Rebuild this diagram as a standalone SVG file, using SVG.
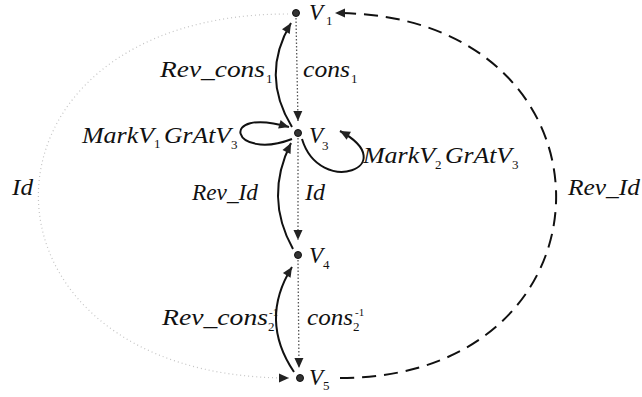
<svg xmlns="http://www.w3.org/2000/svg" width="642" height="397" viewBox="0 0 642 397">
<style>
.t{font-family:"Liberation Serif",serif;font-style:italic;font-size:23px;fill:#111}
.v{font-size:23px}
.s{font-family:"Liberation Serif",serif;font-style:normal;font-size:13px;fill:#111}
.sol{fill:none;stroke:#111;stroke-width:2}
.dash{fill:none;stroke:#111;stroke-width:2;stroke-dasharray:14 8}
.dot{fill:none;stroke:#555;stroke-width:1.3;stroke-dasharray:1.5 2}
.faint{fill:none;stroke:#c4c4c4;stroke-width:1.2;stroke-dasharray:1 3}
.node{fill:#333;stroke:#111;stroke-width:1}
</style>
<defs>
<marker id="ah" markerUnits="userSpaceOnUse" markerWidth="11" markerHeight="9" refX="10" refY="4.5" orient="auto" overflow="visible">
<path d="M0,0 L10,4.5 L0,9 z" fill="#222"/>
</marker>
</defs>
<g id="connectors">
<path class="faint" d="M288 14 C-45 14,-45 378,289 378" marker-end="url(#ah)"/>
<path class="dash" d="M340 378 C629 378,629 13,335 13" marker-end="url(#ah)"/>
<path class="dot" d="M296 18 L298 121" marker-end="url(#ah)"/>
<path class="dot" d="M298 138 L298 240" marker-end="url(#ah)"/>
<path class="dot" d="M298 260 L299 368" marker-end="url(#ah)"/>
<path class="sol" d="M292 127 Q260 75 291 23" marker-end="url(#ah)"/>
<path class="sol" d="M293 249 Q264 197 291 143" marker-end="url(#ah)"/>
<path class="sol" d="M294 372 Q259 320 292 267" marker-end="url(#ah)"/>
<path class="sol" d="M292 139 C232 162,216 106,289 127" marker-end="url(#ah)"/>
<path class="sol" d="M302 139 C320 198,404 166,340 131" marker-end="url(#ah)"/>
</g>
<g id="labels">
<text class="t" x="160" y="77" textLength="105" lengthAdjust="spacingAndGlyphs">Rev_cons</text>
<text class="s" x="266" y="83">1</text>
<text class="t" x="303" y="77" textLength="47" lengthAdjust="spacingAndGlyphs">cons</text>
<text class="s" x="351" y="83">1</text>
<text class="t" x="82" y="143" textLength="72" lengthAdjust="spacingAndGlyphs">MarkV</text>
<text class="s" x="154" y="148">1</text>
<text class="t" x="164" y="143" textLength="67" lengthAdjust="spacingAndGlyphs">GrAtV</text>
<text class="s" x="231" y="149">3</text>
<text class="t" x="363" y="163" textLength="72" lengthAdjust="spacingAndGlyphs">MarkV</text>
<text class="s" x="435" y="169">2</text>
<text class="t" x="445" y="163" textLength="67" lengthAdjust="spacingAndGlyphs">GrAtV</text>
<text class="s" x="512" y="169">3</text>
<text class="t" x="192" y="200" textLength="66" lengthAdjust="spacingAndGlyphs">Rev_Id</text>
<text class="t" x="305" y="200" textLength="20" lengthAdjust="spacingAndGlyphs">Id</text>
<text class="t" x="162" y="325" textLength="106" lengthAdjust="spacingAndGlyphs">Rev_cons</text>
<text class="s" x="268" y="331">2</text>
<text class="s" x="269" y="316" style="font-size:11px">-1</text>
<text class="t" x="307" y="325" textLength="46" lengthAdjust="spacingAndGlyphs">cons</text>
<text class="s" x="353" y="331">2</text>
<text class="s" x="355" y="316" style="font-size:11px">-1</text>
<text class="t" x="568" y="195" textLength="72" lengthAdjust="spacingAndGlyphs">Rev_Id</text>
<text class="t" x="12" y="195" textLength="21" lengthAdjust="spacingAndGlyphs">Id</text>
</g>
<g id="V1">
<circle class="node" cx="296" cy="13" r="3.5"/>
<text class="t v" x="309" y="20">V</text>
<text class="s" x="326" y="25">1</text>
</g>
<g id="V3">
<circle class="node" cx="298" cy="133" r="3.5"/>
<text class="t v" x="309" y="143">V</text>
<text class="s" x="322" y="150">3</text>
</g>
<g id="V4">
<circle class="node" cx="298" cy="255" r="3.5"/>
<text class="t v" x="309" y="263">V</text>
<text class="s" x="323" y="269">4</text>
</g>
<g id="V5">
<circle class="node" cx="300" cy="378" r="3.5"/>
<text class="t v" x="309" y="385">V</text>
<text class="s" x="323" y="390">5</text>
</g>
</svg>
